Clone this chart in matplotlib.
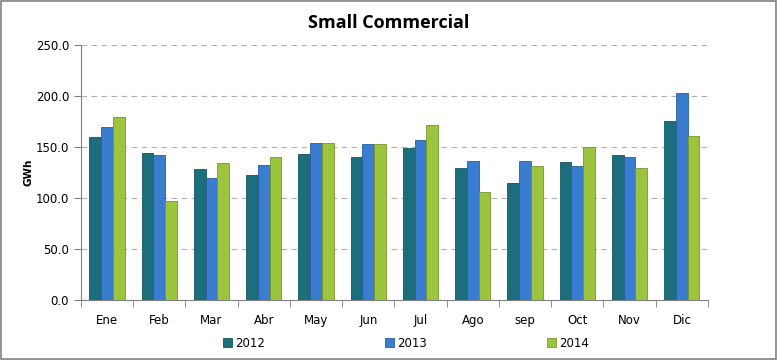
import numpy as np
import matplotlib.pyplot as plt
from matplotlib.patches import Rectangle

months = ["Ene", "Feb", "Mar", "Abr", "May", "Jun", "Jul", "Ago", "sep", "Oct", "Nov", "Dic"]
years = ["2012", "2013", "2014"]
gwh_2012 = [160.0, 144.5, 128.0, 122.0, 143.0, 140.5, 148.7, 129.7, 115.0, 135.3, 142.5, 175.8]
gwh_2013 = [170.0, 142.5, 120.0, 132.0, 154.0, 152.6, 157.0, 136.6, 136.6, 131.0, 140.0, 203.0]
gwh_2014 = [179.0, 97.4, 134.0, 140.5, 154.0, 153.0, 172.0, 106.0, 131.7, 149.7, 129.7, 161.0]

colors = ["#1c6e7c", "#3a7dd0", "#9cc43e"]
edges = ["#155560", "#2a5ea0", "#77962c"]

fig = plt.figure(figsize=(7.78, 3.6), dpi=100)
ax = fig.add_axes([0.104, 0.167, 0.806, 0.708])

x = np.arange(len(months))
w = 0.225
for i, vals in enumerate([gwh_2012, gwh_2013, gwh_2014]):
	ax.bar(
		x + (i - 1) * w,
		vals,
		width=w,
		color=colors[i],
		edgecolor=edges[i],
		linewidth=0.6,
		label=years[i],
		zorder=3)

ax.set_xlim(-0.5, len(months) - 0.5)
ax.set_ylim(0, 250)
ax.set_yticks(np.arange(0, 251, 50))
ax.set_yticklabels(["{:.1f}".format(v) for v in np.arange(0, 251, 50)])
ax.set_xticks(x)
ax.set_xticklabels(months)
ax.set_xticks(np.arange(-0.5, len(months), 1), minor=True)
ax.tick_params(axis="x", which="major", length=0, pad=10, labelsize=8.5)
ax.tick_params(axis="x", which="minor", length=5, color="#808080")
ax.tick_params(axis="y", length=5, color="#808080", labelsize=8.5)
ax.set_ylabel("GWh", fontsize=7.5, fontweight="bold")
ax.yaxis.set_label_coords(-0.076, 0.5)

ax.yaxis.grid(True, color="#b0b0b0", linestyle=(0, (5, 4)), linewidth=0.8, zorder=0)
for s in ["top", "right"]:
	ax.spines[s].set_visible(False)
for s in ["left", "bottom"]:
	ax.spines[s].set_color("#808080")

fig.text(0.5, 0.935, "Small Commercial", ha="center", va="center",
	fontsize=13, fontweight="bold", family="Open Sans")

fig.legend(
	loc="center",
	bbox_to_anchor=(0.522, 0.047),
	ncol=3,
	frameon=False,
	fontsize=8.5,
	handlelength=0.7,
	handleheight=0.7,
	handletextpad=0.3,
	columnspacing=10.2)

fig.patches.append(Rectangle((0.001, 0.002), 0.997, 0.995, transform=fig.transFigure,
	fill=False, edgecolor="#808080", linewidth=1.2))

fig.savefig("out.png", dpi=100)
